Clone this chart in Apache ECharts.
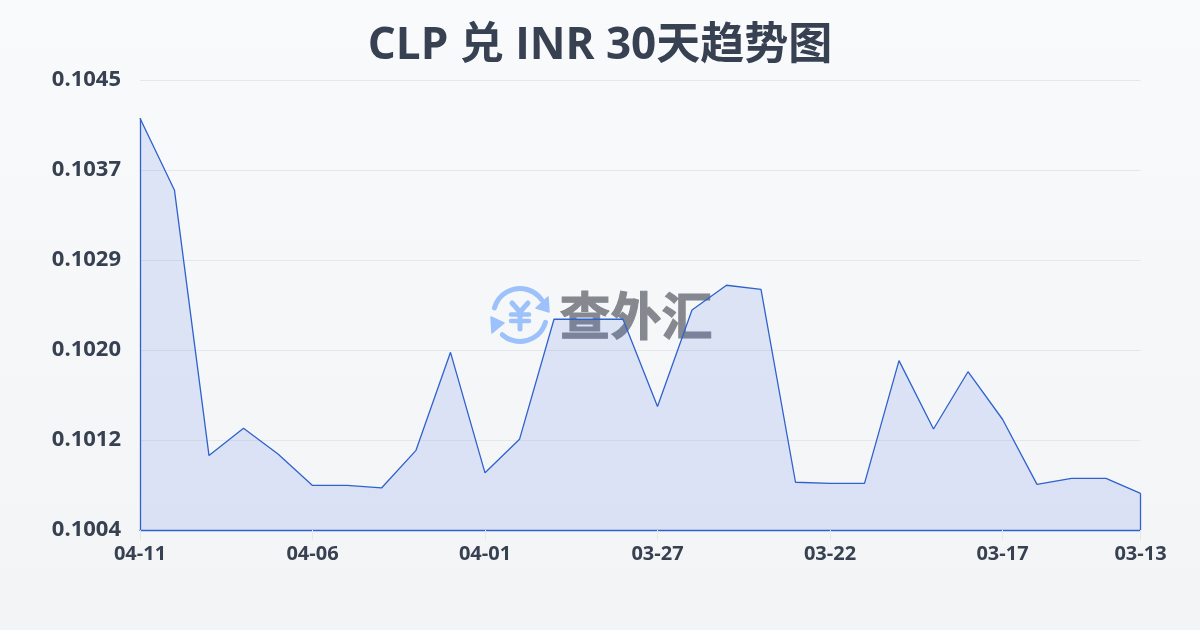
<!DOCTYPE html>
<html>
<head>
<meta charset="utf-8">
<style>html,body{margin:0;padding:0;width:1200px;height:630px;overflow:hidden}#c{width:1200px;height:630px}</style>
<script src="https://cdn.jsdelivr.net/npm/echarts@6/dist/echarts.min.js"></script>
</head>
<body>
<div id="c"></div>
<script>
const titleText = 'CLP 兑 INR 30天趋势图';
const categories = ['04-11','04-10','04-09','04-08','04-07','04-06','04-05','04-04','04-03','04-02','04-01','03-31','03-30','03-29','03-28','03-27','03-26','03-25','03-24','03-23','03-22','03-21','03-20','03-19','03-18','03-17','03-16','03-15','03-14','03-13'];
const rates = [0.104151,0.103495,0.101078,0.101327,0.101092,0.100806,0.100806,0.100783,0.101126,0.102019,0.100921,0.101226,0.10232,0.10232,0.10232,0.101525,0.102404,0.10263,0.102593,0.100835,0.100825,0.100825,0.101943,0.10132,0.101842,0.101409,0.100816,0.100871,0.100871,0.100734];
const yTicks = [0.1004,0.10122,0.10204,0.10286,0.10368,0.1045];
const yMin = 0.1004, yMax = 0.1045;

const LINE = '#2f62cc', INK = '#374151', GRID = '#e5e7eb', FONT = '"Open Sans","Noto Sans CJK SC",sans-serif';
const ICON = '#9dc1fa';
const chart = echarts.init(document.getElementById('c'), null, {renderer:'canvas'});
const first = categories[0], last = categories[categories.length-1];
chart.setOption({
  animation:false,
  backgroundColor:new echarts.graphic.LinearGradient(0,0,0,1,[{offset:0,color:'#f8fafc'},{offset:1,color:'#f3f4f6'}]),
  title:{text:titleText,left:'center',top:19,textStyle:{fontFamily:FONT,fontSize:44,fontWeight:'bold',color:INK}},
  grid:{left:140,right:59.5,top:80,bottom:100},
  xAxis:{type:'category',data:categories,boundaryGap:false,
    axisLine:{show:true,lineStyle:{color:LINE,width:1.3}},
    axisTick:{show:true,length:10,lineStyle:{color:GRID},interval:(i)=>i%5===0||i===categories.length-1},
    axisLabel:{margin:14,fontFamily:FONT,fontSize:20,fontWeight:'bold',color:INK,hideOverlap:false,
      interval:(i)=>i%5===0||i===categories.length-1},
    splitLine:{show:false}},
  yAxis:{type:'value',min:yMin,max:yMax,
    axisLine:{show:false},
    axisTick:{show:false,customValues:yTicks},
    axisLabel:{margin:19,fontFamily:FONT,fontSize:22,fontWeight:'bold',color:INK,customValues:yTicks,padding:[0,0,3,0],
      formatter:(v)=>v.toFixed(4)},
    splitLine:{show:true,lineStyle:{color:GRID,width:1}}},
  graphic:[
    {type:'group',z:0,silent:true,children:[
      {type:'arc',shape:{cx:520,cy:315,r:26.5,startAngle:-2.87,endAngle:-0.62},style:{fill:null,stroke:ICON,lineWidth:5,lineCap:'round'}},
      {type:'arc',shape:{cx:520,cy:315,r:26.5,startAngle:0.28,endAngle:2.3},style:{fill:null,stroke:ICON,lineWidth:5,lineCap:'round'}},
      {type:'polygon',shape:{points:[[548,297],[549,312],[536,308]]},style:{fill:ICON,stroke:ICON,lineWidth:1.5,lineJoin:'round'}},
      {type:'polygon',shape:{points:[[491,317],[504,323],[492,333]]},style:{fill:ICON,stroke:ICON,lineWidth:1.5,lineJoin:'round'}},
      {type:'line',shape:{x1:512,y1:303,x2:520,y2:312},style:{stroke:ICON,lineWidth:5,lineCap:'round'}},
      {type:'line',shape:{x1:528,y1:303,x2:520,y2:312},style:{stroke:ICON,lineWidth:5,lineCap:'round'}},
      {type:'line',shape:{x1:511,y1:314.5,x2:529,y2:314.5},style:{stroke:ICON,lineWidth:4.5,lineCap:'round'}},
      {type:'line',shape:{x1:511,y1:321,x2:529,y2:321},style:{stroke:ICON,lineWidth:4.5,lineCap:'round'}},
      {type:'line',shape:{x1:520,y1:312,x2:520,y2:329},style:{stroke:ICON,lineWidth:5,lineCap:'round'}},
      {type:'text',x:636,y:316,style:{text:'查外汇',fontFamily:'"Noto Sans CJK SC"',fontSize:51,fontWeight:'bold',fill:'#85888f',stroke:'#85888f',lineWidth:1,align:'center',verticalAlign:'middle'}}
    ]}
  ],
  series:[{
    type:'line',z:3,data:rates,symbol:'none',smooth:false,
    lineStyle:{color:LINE,width:1.3},
    areaStyle:{color:'rgba(65,105,225,0.2)',origin:'start'},
    markLine:{silent:true,symbol:'none',label:{show:false},lineStyle:{color:LINE,width:1.3,type:'solid'},animation:false,
      data:[
        [{xAxis:first,yAxis:yMin},{xAxis:first,yAxis:rates[0]}],
        [{xAxis:last,yAxis:yMin},{xAxis:last,yAxis:rates[rates.length-1]}]
      ]}
  }]
});
</script>
</body>
</html>
